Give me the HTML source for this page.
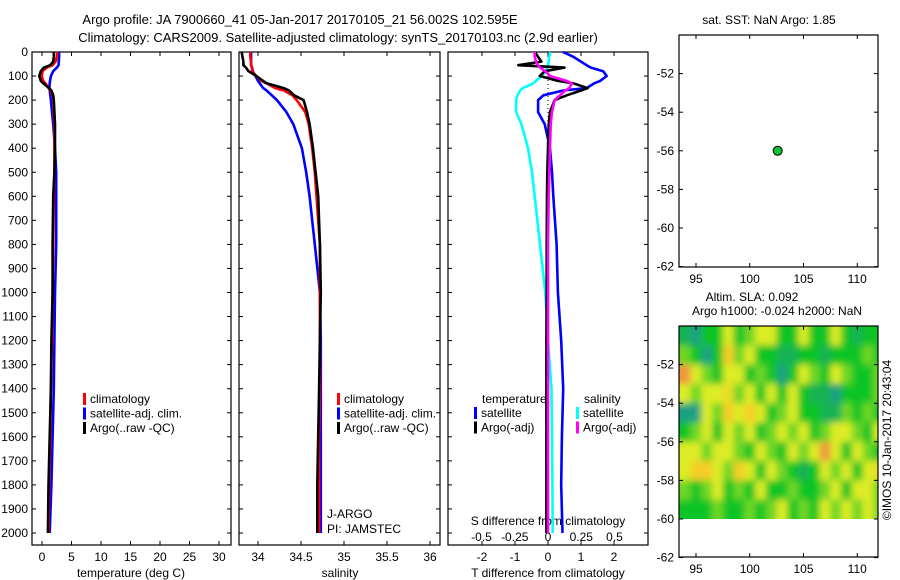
<!DOCTYPE html>
<html><head><meta charset="utf-8">
<style>
body{margin:0;background:#fff;}
svg{display:block;font-family:"Liberation Sans",sans-serif;}
text{font-size:12px;fill:#000;}
</style></head>
<body>
<svg id="fig" width="900" height="580" viewBox="0 0 900 580" xmlns="http://www.w3.org/2000/svg">
<defs>
<filter id="blur" filterUnits="userSpaceOnUse" x="660" y="300" width="240" height="240"><feGaussianBlur stdDeviation="3.5"/></filter>
<clipPath id="hmclip"><rect x="679" y="326" width="199" height="193"/></clipPath>
</defs>
<text x="300" y="24" text-anchor="middle" style="font-size:13px">Argo profile: JA 7900660_41 05-Jan-2017 20170105_21 56.002S 102.595E</text>
<text x="338" y="42" text-anchor="middle" style="font-size:13px">Climatology: CARS2009. Satellite-adjusted climatology: synTS_20170103.nc (2.9d earlier)</text>
<g id="g"></g>
<text x="769" y="24" text-anchor="middle">sat. SST: NaN Argo: 1.85</text>
<text x="752" y="301" text-anchor="middle">Altim. SLA: 0.092</text>
<text x="777" y="315" text-anchor="middle">Argo h1000: -0.024 h2000: NaN</text>
<text transform="translate(891,440) rotate(-90)" text-anchor="middle">©IMOS 10-Jan-2017 20:43:04</text>
</svg>
<script>
const depths=[0,20,40,55,65,80,100,120,130,150,160,180,200,250,300,400,500,600,800,1000,1200,1400,1600,1800,2000];
const tClim=[2.6,2.5,2.3,1.8,0.8,0.1,-0.05,0.2,0.6,1.1,1.4,1.8,1.9,2.0,2.1,2.1,2.1,2.0,1.9,1.8,1.7,1.5,1.4,1.2,1.1];
const tSat=[2.9,2.9,2.85,2.8,2.5,1.9,1.5,1.35,1.3,1.25,1.3,1.4,1.5,1.7,1.9,2.2,2.4,2.4,2.4,2.2,2.1,2.0,1.8,1.6,1.3];
const tArgo=[2.0,2.0,1.9,1.4,0.3,-0.2,-0.45,-0.2,0.2,1.2,1.6,1.9,2.0,2.1,2.2,2.2,2.1,1.9,1.8,1.8,1.6,1.5,1.3,1.1,1.0];
const sClim=[33.91,33.91,33.92,33.92,33.93,33.93,33.98,34.04,34.1,34.2,34.3,34.4,34.45,34.55,34.59,34.63,34.66,34.68,34.72,34.72,34.72,34.72,34.71,34.71,34.71];
const sSat=[33.92,33.92,33.92,33.92,33.93,33.94,33.97,34.0,34.02,34.06,34.1,34.16,34.22,34.33,34.41,34.51,34.56,34.6,34.66,34.72,34.73,34.73,34.73,34.73,34.73];
const sArgo=[33.81,33.82,33.83,33.83,33.86,33.89,33.98,34.06,34.1,34.3,34.36,34.42,34.53,34.57,34.6,34.64,34.67,34.7,34.72,34.73,34.72,34.71,34.7,34.69,34.69];
const dTArgo=[-0.4,-0.3,-0.2,-0.9,0.5,-0.1,-0.25,0.3,0.77,1.2,1.0,0.57,0.2,0.06,0.02,0,-0.02,-0.03,-0.04,-0.04,-0.05,-0.05,-0.05,-0.05,-0.05];
const dTSat=[0.45,0.77,1.0,1.17,1.3,1.67,1.78,1.58,1.4,1.17,0.46,-0.14,-0.3,-0.3,-0.1,0.06,0.12,0.16,0.26,0.3,0.4,0.46,0.42,0.4,0.44];
const dSSat=[0.015,0.01,0.005,0,-0.005,-0.015,-0.05,-0.09,-0.11,-0.19,-0.21,-0.23,-0.24,-0.24,-0.2,-0.15,-0.12,-0.1,-0.06,-0.02,0.0,0.026,0.03,0.033,0.035];
const dSArgo=[-0.1,-0.1,-0.09,-0.075,-0.06,-0.02,0.015,0.14,0.18,0.16,0.13,0.09,0.05,0.03,0.02,0.015,0.01,0.005,0,0,0,0,0,0,0];
const depthTicks=[0,100,200,300,400,500,600,700,800,900,1000,1100,1200,1300,1400,1500,1600,1700,1800,1900,2000];
const tTicks=[0,5,10,15,20,25,30];
const sTicks=[34,34.5,35,35.5,36];
const dTTicks=[-2,-1,0,1,2];
const dSTicks=[-0.5,-0.25,0,0.25,0.5];
const dSTickLabels=["-0.5","-0.25","0","0.25","0.5"];
const floatLon=[102.6];
const floatLat=[-56.0];
const latTicks=[-52,-54,-56,-58,-60,-62];
const lonTicks=[95,100,105,110];
const hmLons=[94,95,96,97,98,99,100,101,102,103,104,105,106,107,108,109,110,111,112];
const hmLats=[-50.5,-51.5,-52.5,-53.5,-54.5,-55.5,-56.5,-57.5,-58.5,-59.5];
const hmRow0=[-1.5,-2,-1,-1,1,-1,0,1,1,-1,-1,1,-1,-1,1,-1,-1.5,-1,-1];
const hmRow1=[0,-1,-2,-1,2,0,1,-1,-1,-1.5,-1.5,-1,-1,-1.5,-1,-1,-1,0,-1];
const hmRow2=[3,1,0,-1,1,1,-1,0,-1,-2,-1,1,0,-1,1,0,-1,-1,0];
const hmRow3=[1,0,1,1,1.5,0,1,-1,1,-1,1,-1,-1.5,-1.5,-2,-1,-1,-1,0];
const hmRow4=[-2,-2,1,0,2,1,2,1,-1,0,1,-1,-1,-1.5,-1.5,0,-1,0,-1];
const hmRow5=[-1,0,1,-1,1,0,1,-1,0,1,0,1,-1,0,1,1,0,-1,1];
const hmRow6=[1,1,0,1,1,0,-1,1,0,-1,1,0,1,3,1,-1,1,0,-1];
const hmRow7=[1,2,2,1,0,2,1,-1,1,0,-1,-1.5,-1,1,0,1,-1,1,1.5];
const hmRow8=[0,-1,0,1,-1,0,-1,1,-1,-1,0,-1,-1,0,1,-1,1,1,0];
const hmRow9=[-1,-1,-1,0,-1,-1,0,-1,0,1,-1,0,-1,1,0,1,0,1,0];
const hmRows=[hmRow0,hmRow1,hmRow2,hmRow3,hmRow4,hmRow5,hmRow6,hmRow7,hmRow8,hmRow9];

const NS='http://www.w3.org/2000/svg';
const G=document.getElementById('g');
function mk(tag,attrs,parent){const e=document.createElementNS(NS,tag);for(const k in attrs)e.setAttribute(k,attrs[k]);(parent||G).appendChild(e);return e;}
function txt(x,y,s,anchor,parent){const e=mk('text',{x:x,y:y,'text-anchor':anchor||'middle'},parent);e.textContent=s;return e;}
const Y0=52, YS=0.2405;
const yD=d=>Y0+d*YS;
const xT=t=>42+5.9*t;
const xS=s=>258+86*(s-34);
const xDT=v=>548+33*v;
const xDS=v=>548+133*v;

const panels=[{x0:32,x1:231,name:'temperature-panel'},{x0:239,x1:440,name:'salinity-panel'},{x0:448,x1:648,name:'difference-panel'}];
panels.forEach((p,i)=>{
  const r=mk('rect',{x:p.x0,y:Y0,width:p.x1-p.x0,height:545-Y0,fill:'none',stroke:'#000','stroke-width':1.2});
  
  
  depthTicks.forEach(d=>{mk('line',{x1:p.x0,x2:p.x0+4,y1:yD(d),y2:yD(d),stroke:'#000'});mk('line',{x1:p.x1,x2:p.x1-4,y1:yD(d),y2:yD(d),stroke:'#000'});});
});
depthTicks.forEach(d=>{const t=txt(28,yD(d)+4,String(d),'end');});
function xticks(ticks,fx,labels,ylab){ticks.forEach((v,i)=>{const x=fx(v);mk('line',{x1:x,x2:x,y1:545,y2:541,stroke:'#000'});mk('line',{x1:x,x2:x,y1:Y0,y2:Y0+4,stroke:'#000'});const t=txt(x,ylab,labels?labels[i]:String(v));});}
xticks(tTicks,xT,null,561);
xticks(sTicks,xS,null,561);
xticks(dTTicks,xDT,null,561);
dSTicks.forEach((v,i)=>{const t=txt(xDS(v),541,dSTickLabels[i]);});
[['temperature (deg C)',131],['salinity',340],['T difference from climatology',548]].forEach(a=>{const t=txt(a[1],577,a[0]);});
{const t=txt(548,525,'S difference from climatology');}
mk('line',{x1:548,x2:548,y1:Y0,y2:yD(800),stroke:'#000','stroke-dasharray':'1,3'});

function series(vals,fx,color,name){
  const pts=vals.map((v,i)=>fx(v).toFixed(1)+','+yD(depths[i]).toFixed(1)).join(' ');
  const l=mk('polyline',{points:pts,fill:'none',stroke:color,'stroke-width':2.6,'stroke-linejoin':'round'});
  
  
}
series(tSat,xT,'#0000ff','temp-satellite-line');
series(tClim,xT,'#ff0000','temp-climatology-line');
series(tArgo,xT,'#000','temp-argo-line');
series(sSat,xS,'#0000ff','sal-satellite-line');
series(sClim,xS,'#ff0000','sal-climatology-line');
series(sArgo,xS,'#000','sal-argo-line');
series(dSSat,xDS,'#00ffff','sdiff-satellite-line');
series(dTSat,xDT,'#0000ff','tdiff-satellite-line');
series(dTArgo,xDT,'#000','tdiff-argo-line');
series(dSArgo,xDS,'#ff00ff','sdiff-argo-line');

function legend(x,y,items,name){const g=mk('g',{});
  items.forEach((it,i)=>{mk('rect',{x:x,y:y+i*14.5-10,width:3,height:12,fill:it[1]},g);txt(x+7,y+i*14.5,it[0],'start',g);});}
legend(83,403,[['climatology','#f00'],['satellite-adj. clim.','#00f'],['Argo(..raw -QC)','#000']],'temp-legend');
legend(337,403,[['climatology','#f00'],['satellite-adj. clim.','#00f'],['Argo(..raw -QC)','#000']],'sal-legend');
txt(482,403,'temperature','start');
legend(474,417,[['satellite','#00f'],['Argo(-adj)','#000']],'tdiff-legend');
txt(584,403,'salinity','start');
legend(576,417,[['satellite','#0ff'],['Argo(-adj)','#f0f']],'sdiff-legend');
txt(327,518,'J-ARGO','start');
txt(327,533,'PI: JAMSTEC','start');

// maps
const mx=lon=>696+(lon-95)*10.75;
function mapAxes(top,bottom,name){
  const ly=lat=>top+(-50-lat)*19.3;
  const r=mk('rect',{x:679,y:top,width:199,height:bottom-top,fill:'none',stroke:'#000','stroke-width':1.2});
  
  
  latTicks.forEach(l=>{const y=ly(l);mk('line',{x1:679,x2:683,y1:y,y2:y,stroke:'#000'});mk('line',{x1:878,x2:874,y1:y,y2:y,stroke:'#000'});const t=txt(674,y+4,String(l),'end');});
  lonTicks.forEach(l=>{const x=mx(l);mk('line',{x1:x,x2:x,y1:bottom,y2:bottom-4,stroke:'#000'});mk('line',{x1:x,x2:x,y1:top,y2:top+4,stroke:'#000'});const t=txt(x,bottom+16,String(l));});
  return ly;
}
const ly1=mapAxes(35,267,'sst-map');
floatLon.forEach((lo,i)=>{const c=mk('circle',{cx:mx(lo),cy:ly1(floatLat[i]),r:4.5,fill:'#10c030',stroke:'#000','stroke-width':1});});

const stops=[[-2,[26,160,130]],[-1,[16,196,40]],[0,[110,214,40]],[1,[220,236,40]],[2,[245,205,40]],[3,[240,150,60]]];
function col(v){if(v<=stops[0][0])return 'rgb('+stops[0][1]+')';for(let i=1;i<stops.length;i++){if(v<=stops[i][0]){const a=stops[i-1],b=stops[i],f=(v-a[0])/(b[0]-a[0]);return 'rgb('+a[1].map((c,k)=>Math.round(c+f*(b[1][k]-c))).join(',')+')';}}return 'rgb('+stops[stops.length-1][1]+')';}
const ly2=lat=>326+(-50-lat)*19.3;
const hc=mk('g',{'clip-path':'url(#hmclip)'});


const hg=mk('g',{filter:'url(#blur)'},hc);
hmRows.forEach((row,ri)=>{row.forEach((v,ci)=>{
  let x0=mx(hmLons[ci]-0.5),x1=mx(hmLons[ci]+0.5),y0=ly2(hmLats[ri]+0.5),y1=ly2(hmLats[ri]-0.5);
  if(ci===0)x0-=14; if(ci===row.length-1)x1+=14; if(ri===0)y0-=14; if(ri===hmRows.length-1)y1+=14;
  const r=mk('rect',{x:x0,y:y0,width:x1-x0+0.5,height:y1-y0+0.5,fill:col(v)},hg);
  
  
});});
mapAxes(326,557,'sla-map');
</script>
</body></html>
